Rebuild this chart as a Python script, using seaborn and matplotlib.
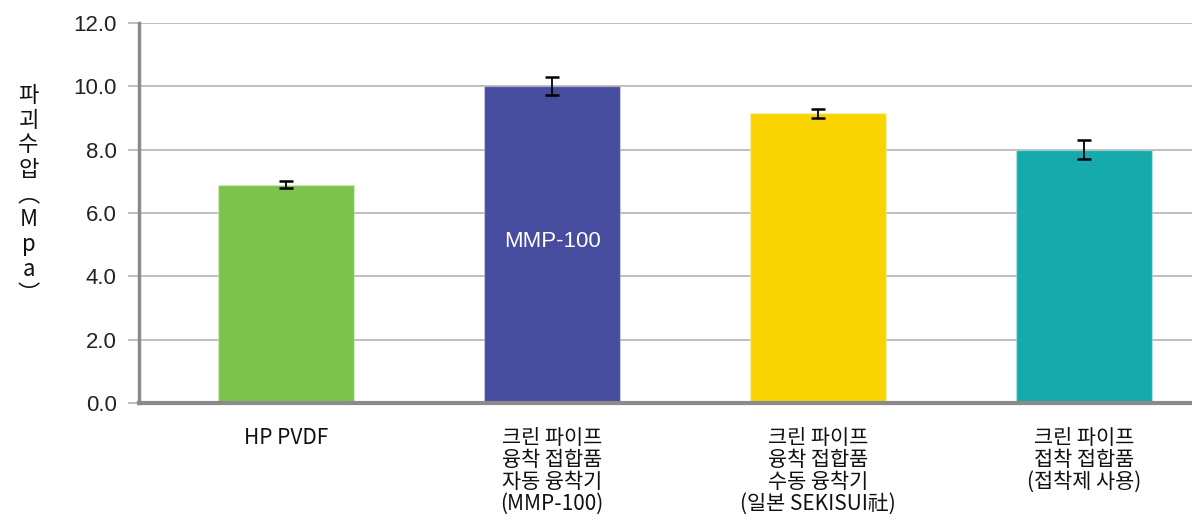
import numpy as np
import pandas as pd
import matplotlib
matplotlib.use("Agg")
import matplotlib.pyplot as plt
import seaborn as sb

# data
labels = ["HP PVDF",
          "크린 파이프\n융착 접합품\n자동 융착기\n(MMP-100)",
          "크린 파이프\n융착 접합품\n수동 융착기\n(일본 SEKISUI社)",
          "크린 파이프\n접착 접합품\n(접착제 사용)"]
values = [6.9, 10.0, 9.15, 8.0]
errors = [0.1, 0.28, 0.14, 0.3]
colors = ["#7DC24B", "#464C9E", "#FAD400", "#16AAAC"]
yticks = [0.0, 2.0, 4.0, 6.0, 8.0, 10.0, 12.0]
ylabel_chars = ["파", "괴", "수", "압", "︵", "M", "p", "a", "︶"]

sb.set_style("white")
plt.rcParams["font.family"] = ["Liberation Sans", "Noto Sans CJK KR", "DejaVu Sans"]

df = pd.DataFrame({"name": labels, "value": values})

fig = plt.figure(figsize=(11.92, 5.29), dpi=100)
ax = fig.add_axes([0.1166, 0.238, 0.8834, 0.7185])

sb.barplot(data=df, x="name", y="value", hue="name", palette=colors, saturation=1,
           legend=False, width=0.51, ax=ax, edgecolor="#ffffff50", linewidth=1, zorder=2)
ax.errorbar(np.arange(len(values)), values, yerr=errors, fmt="none",
            ecolor="black", elinewidth=1.3, capsize=5, capthick=1.8, zorder=3)

ax.set_xlim(-0.553, 3.406)
ax.set_ylim(0, 12)
ax.set_yticks(yticks)
ax.set_yticklabels([f"{t:.1f}" for t in yticks], fontsize=16, color="#222222")
ax.grid(axis="y", color="#b4b4b4", linewidth=1.2, zorder=0)
ax.set_axisbelow(True)

for s in ["top", "right"]:
    ax.spines[s].set_visible(False)
ax.spines["left"].set_color("#8a8a8a")
ax.spines["left"].set_linewidth(2.5)
ax.spines["bottom"].set_color("#8a8a8a")
ax.spines["bottom"].set_linewidth(3)
ax.tick_params(axis="y", length=8, width=1.2, color="#b4b4b4", pad=8, left=True)
ax.tick_params(axis="x", length=0, pad=17)
ax.set_xlabel("")
ax.set_ylabel("")
ax.set_xticks(range(len(labels)))
ax.set_xticklabels(labels, fontsize=15, linespacing=1.0,
                   family=["Noto Sans CJK KR", "DejaVu Sans"], color="#111111")

# text inside blue bar
ax.text(1, 5.1, "MMP-100", ha="center", va="center", color="white", fontsize=16)

# stacked vertical y label
for i, ch in enumerate(ylabel_chars):
    fig.text(0.024, 0.82 - i * 0.047, ch, ha="center", va="center", fontsize=16,
             family=["Noto Sans CJK KR", "DejaVu Sans"], color="#111111")

fig.savefig("out.png", dpi=100)
